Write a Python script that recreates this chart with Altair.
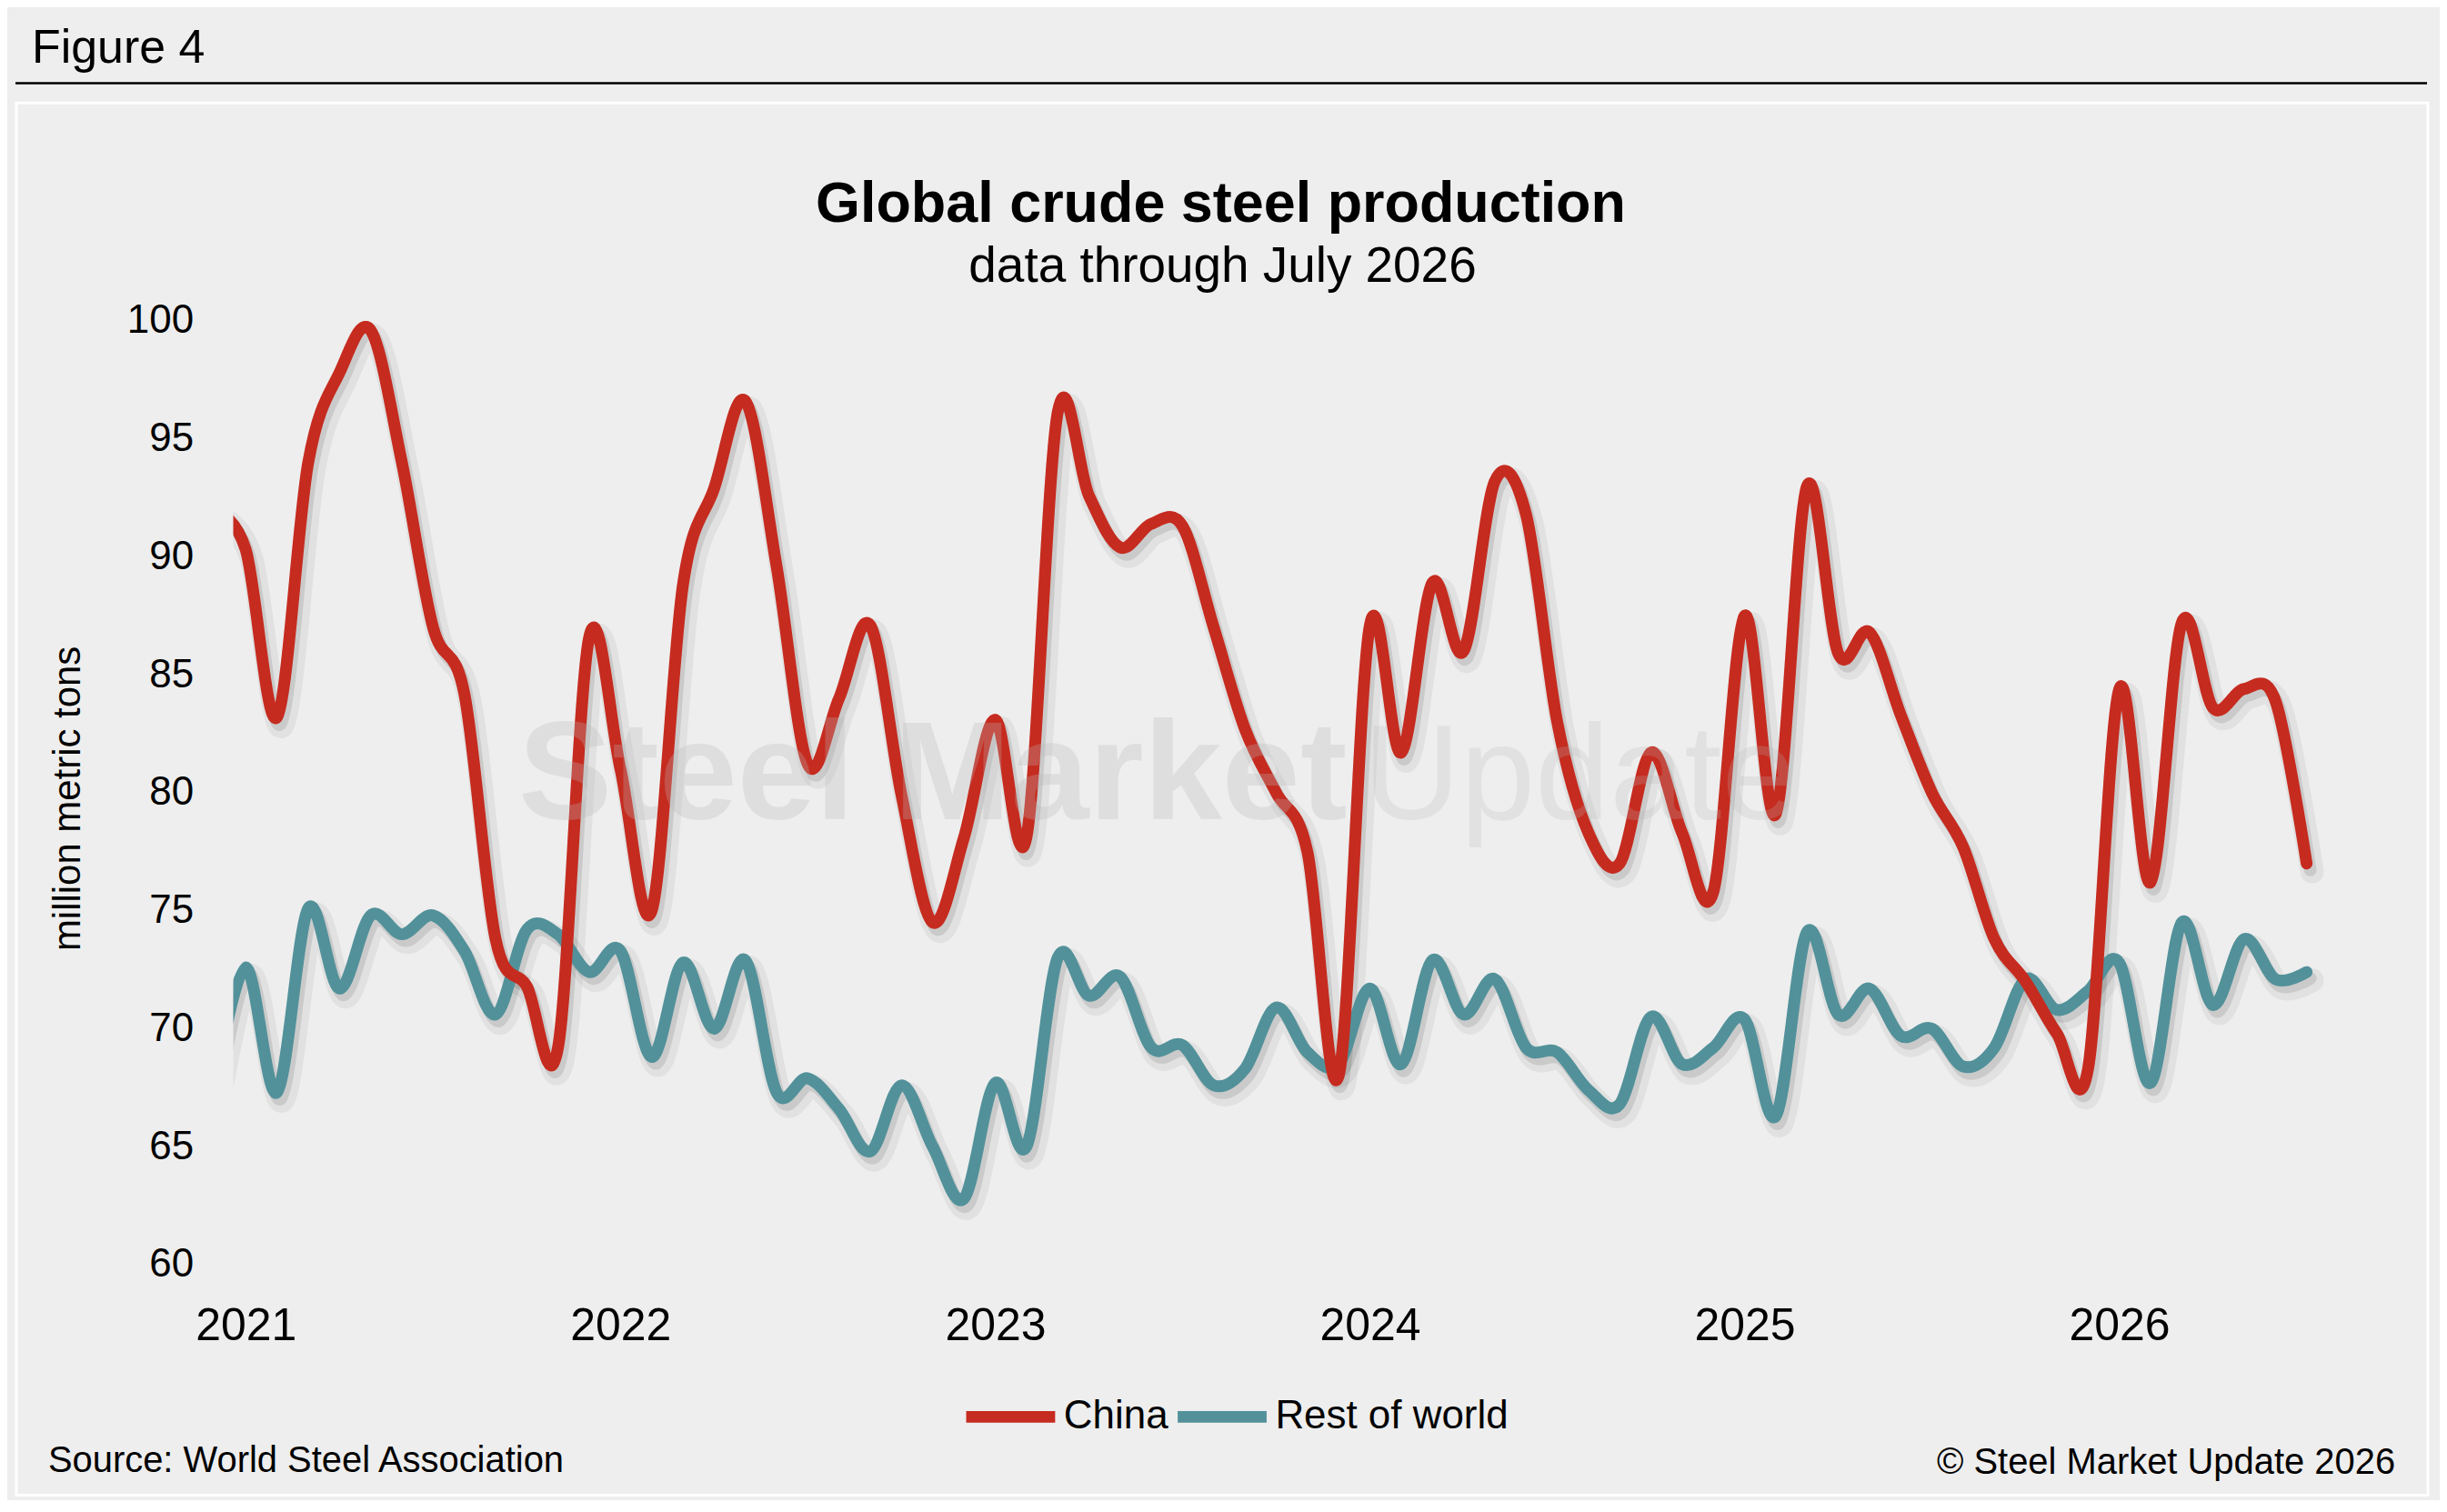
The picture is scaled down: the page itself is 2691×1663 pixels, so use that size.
import json
import altair as alt
import pandas as pd

# ---------------- data ----------------
months = [
    "2020-12",
    "2021-01", "2021-02", "2021-03", "2021-04", "2021-05", "2021-06",
    "2021-07", "2021-08", "2021-09", "2021-10", "2021-11", "2021-12",
    "2022-01", "2022-02", "2022-03", "2022-04", "2022-05", "2022-06",
    "2022-07", "2022-08", "2022-09", "2022-10", "2022-11", "2022-12",
    "2023-01", "2023-02", "2023-03", "2023-04", "2023-05", "2023-06",
    "2023-07", "2023-08", "2023-09", "2023-10", "2023-11", "2023-12",
    "2024-01", "2024-02", "2024-03", "2024-04", "2024-05", "2024-06",
    "2024-07", "2024-08", "2024-09", "2024-10", "2024-11", "2024-12",
    "2025-01", "2025-02", "2025-03", "2025-04", "2025-05", "2025-06",
    "2025-07", "2025-08", "2025-09", "2025-10", "2025-11", "2025-12",
    "2026-01", "2026-02", "2026-03", "2026-04", "2026-05", "2026-06",
    "2026-07",
]

china = [
    92.0,
    90.3, 83.2, 94.0, 97.8, 99.6, 94.0, 87.0, 84.2, 73.8, 71.8, 69.2, 86.6,
    81.0, 75.0, 88.8, 92.9, 96.6, 89.6, 81.2, 84.0, 87.1, 79.9, 74.5, 78.1,
    83.1, 78.1, 96.1, 92.6, 90.4, 91.4, 91.3, 87.0, 82.7, 80.0, 77.5, 68.0,
    87.1, 81.7, 88.9, 86.0, 93.2, 91.8, 83.0, 78.3, 77.0, 81.7, 78.3, 75.8,
    87.5, 79.1, 93.0, 85.9, 86.8, 83.3, 80.0, 77.7, 73.8, 72.0, 69.8, 68.3,
    84.4, 76.2, 87.2, 83.6, 84.4, 83.9, 77.0,
]

rest_of_world = [
    67.5,
    72.6, 67.3, 75.1, 71.7, 74.8, 74.0, 74.8, 73.3, 70.6, 74.2, 74.0, 72.4,
    73.3, 68.8, 72.8, 70.0, 72.9, 67.3, 67.9, 66.6, 64.8, 67.6, 65.0, 62.8,
    67.7, 65.0, 73.0, 71.4, 72.2, 69.2, 69.3, 67.6, 68.3, 70.9, 69.0, 68.5,
    71.7, 68.5, 72.9, 70.6, 72.1, 69.2, 69.0, 67.4, 66.8, 70.5, 68.5, 69.2,
    70.4, 66.3, 74.1, 70.6, 71.7, 69.7, 70.0, 68.4, 69.2, 72.1, 70.8, 71.6,
    72.8, 67.7, 74.5, 71.0, 73.8, 72.1, 72.4,
]

series_names = ["China", "Rest of world"]
series_colors = ["#C62B1F", "#52919A"]
year_labels = ["2021", "2022", "2023", "2024", "2025", "2026"]
y_ticks = [60, 65, 70, 75, 80, 85, 90, 95, 100]

figure_label = "Figure 4"
title_text = "Global crude steel production"
subtitle_text = "data through July 2026"
y_title = "million metric tons"
source_text = "Source: World Steel Association"
copyright_text = "\u00a9 Steel Market Update 2026"
watermark_bold = "Steel Market"
watermark_light = "Update"


def month_index(m):
    y, mo = m.split("-")
    return (int(y) - 2021) * 12 + int(mo) - 1


rows = []
for m, c, r in zip(months, china, rest_of_world):
    rows.append({"month": m, "idx": month_index(m), "series": series_names[0], "value": c})
    rows.append({"month": m, "idx": month_index(m), "series": series_names[1], "value": r})
df = pd.DataFrame(rows)

FONT = "Liberation Sans"
PLOT_W = 2305
PLOT_H = 1040

label_expr = json.dumps(year_labels) + "[round(datum.value / 12)]"

x_enc = alt.X(
    "idx:Q",
    scale=alt.Scale(domain=[-0.4, 66.6], nice=False, zero=False),
    axis=alt.Axis(
        values=[12 * i for i in range(len(year_labels))],
        labelExpr=label_expr,
        grid=False, domain=False, ticks=False,
        labelFontSize=50, labelPadding=83, labelBaseline="alphabetic",
        labelColor="black", labelFont=FONT, labelFlush=False, title=None,
    ),
)
y_enc = alt.Y(
    "value:Q",
    scale=alt.Scale(domain=[60, 100], nice=False, zero=False),
    axis=alt.Axis(
        values=y_ticks,
        grid=False, domain=False, ticks=False,
        labelFontSize=44, labelPadding=44, labelColor="black", labelFont=FONT,
        title=y_title, titleFontSize=42, titleFontWeight="normal", titleFont=FONT,
        titleColor="black", titleX=-182, titleY=526, titleAngle=270,
        titleAlign="center", titleBaseline="middle",
    ),
)
color_enc = alt.Color(
    "series:N",
    scale=alt.Scale(domain=series_names, range=series_colors),
    legend=alt.Legend(
        orient="none", legendX=801, legendY=1152, direction="horizontal",
        symbolType="stroke", symbolSize=9604, symbolStrokeWidth=13,
        labelFontSize=44, labelFont=FONT, labelColor="black", labelOffset=3,
        labelLimit=0, columnPadding=-16, padding=0, title=None,
    ),
)

base = alt.Chart(df)

shadow_wide = base.mark_line(
    interpolate="cardinal", color="#000000", opacity=0.05, strokeWidth=26,
    xOffset=6, yOffset=9, clip=True, strokeCap="round", strokeJoin="round",
).encode(x=x_enc, y=y_enc, detail="series:N")

shadow_narrow = base.mark_line(
    interpolate="cardinal", color="#000000", opacity=0.10, strokeWidth=14,
    xOffset=4, yOffset=7, clip=True, strokeCap="round", strokeJoin="round",
).encode(x=x_enc, y=y_enc, detail="series:N")

row_line = base.transform_filter(
    alt.datum.series == series_names[1]
).mark_line(
    interpolate="cardinal", strokeWidth=13, clip=True,
    strokeCap="round", strokeJoin="round",
).encode(x=x_enc, y=y_enc, color=color_enc)

china_line = base.transform_filter(
    alt.datum.series == series_names[0]
).mark_line(
    interpolate="cardinal", strokeWidth=13, clip=True,
    strokeCap="round", strokeJoin="round",
).encode(x=x_enc, y=y_enc, color=color_enc)


def text_layer(txt, x, y, size, align="left", weight="normal", color="black",
               opacity=1.0):
    return alt.Chart(pd.DataFrame({"t": [txt]})).mark_text(
        align=align, baseline="alphabetic", fontSize=size, fontWeight=weight,
        font=FONT, color=color, opacity=opacity,
    ).encode(text="t:N", x=alt.value(x), y=alt.value(y))


one = pd.DataFrame({"k": [0]})

panel = alt.Chart(one).mark_rect(
    fillOpacity=0, stroke="white", strokeWidth=3,
).encode(x=alt.value(-239), x2=alt.value(2418), y=alt.value(-240), y2=alt.value(1294))

top_rule = alt.Chart(one).mark_rule(color="black", strokeWidth=2.5).encode(
    x=alt.value(-240), x2=alt.value(2417), y=alt.value(-262)
)

wm1 = text_layer(watermark_bold, 314, 549, 155, weight="bold", color="#B8B8B8", opacity=0.28)
wm2 = text_layer(watermark_light, 1245, 549, 148, color="#B8B8B8", opacity=0.22)

fig = text_layer(figure_label, -222, -284, 52)
ttl = text_layer(title_text, 1088, -109, 63, align="center", weight="bold")
sub = text_layer(subtitle_text, 1090, -43, 55, align="center")
src = text_layer(source_text, -204, 1268, 40)
cpy = text_layer(copyright_text, 2382, 1270, 40, align="right")

chart = alt.layer(
    panel, top_rule, shadow_wide, shadow_narrow, row_line, china_line,
    wm1, wm2, fig, ttl, sub, src, cpy,
).properties(
    width=PLOT_W, height=PLOT_H,
    padding={"left": 249, "top": 344, "right": 126, "bottom": 258},
    autosize=alt.AutoSizeParams(type="none"),
    background="#EEEEEE",
).configure(font=FONT).configure_view(stroke=None, strokeWidth=0)

chart.save("out.html", embed_options={"renderer": "svg", "actions": False})
